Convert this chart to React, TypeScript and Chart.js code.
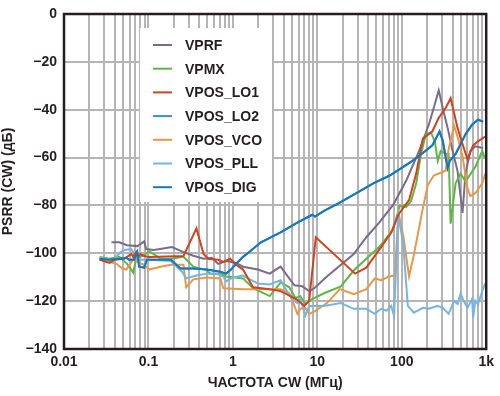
import React, { useEffect, useRef } from "react";
import { Chart, registerables } from "chart.js";

Chart.register(...registerables);

// ---- Data (frequency in MHz, PSRR in dB) ----
const seriesNames = ["VPRF", "VPMX", "VPOS_LO1", "VPOS_LO2", "VPOS_VCO", "VPOS_PLL", "VPOS_DIG"];
const seriesColors = ["#7b6b8b", "#5cb842", "#d2421c", "#3a8fd2", "#e89845", "#76b4e3", "#1777bd"];

const vprfFreq = [0.0365, 0.045, 0.056, 0.074, 0.089, 0.094, 0.116, 0.19, 0.26, 0.34, 0.45, 0.56, 0.67, 0.83, 1.09, 1.32, 1.97, 2.73, 3.67, 5.35, 6.64, 8.0, 9.2, 13, 27, 38, 54, 79, 113, 160, 209, 239, 274, 313, 349, 400, 457, 524, 568, 650, 743, 920];
const vprfDb = [-95.4, -95.4, -96.6, -97, -95, -98.2, -98.6, -97.4, -99.5, -101, -102.3, -101.9, -104.4, -103.2, -104, -105.6, -106.8, -108.5, -105.6, -113.4, -113.8, -115.8, -114.6, -109.7, -100.3, -93.3, -87.2, -79.8, -69.6, -57.3, -46.3, -39.3, -31.9, -40.9, -47.5, -57.3, -65.5, -83.1, -66.7, -57.3, -55.3, -56];

const vpmxFreq = [0.0264, 0.0346, 0.0453, 0.056, 0.066, 0.0716, 0.089, 0.102, 0.14, 0.184, 0.26, 0.34, 0.47, 0.54, 0.71, 0.83, 1.32, 1.73, 2.73, 3.67, 4.66, 5.5, 6.3, 7.2, 8.7, 12, 19, 27, 38, 54, 79, 91, 94, 113, 129, 148, 169, 193, 221, 246, 267, 289, 331, 359, 379, 434, 497, 568, 743, 898, 950];
const vpmxDb = [-101.5, -102.3, -101.5, -104.4, -108.1, -102.3, -100.7, -99.1, -102.3, -102.3, -101.5, -105.6, -106.8, -108.5, -108.5, -109.7, -110.5, -114.6, -117.9, -112.2, -114.2, -118.7, -117.9, -121.2, -119.1, -116.7, -113.8, -107.2, -102.3, -97.4, -90.1, -82.3, -80.2, -80.6, -78.2, -70.8, -58.5, -50.3, -49.5, -53.2, -61.4, -57.3, -58.5, -58.5, -87.6, -70.8, -66.7, -70, -63.9, -57.3, -59.8];

const lo1Freq = [0.0264, 0.0346, 0.0395, 0.0518, 0.0625, 0.066, 0.0716, 0.0755, 0.0798, 0.089, 0.102, 0.26, 0.37, 0.45, 0.51, 0.67, 0.77, 0.93, 1.09, 1.32, 1.73, 2.73, 3.67, 4.8, 5.8, 7.0, 8.0, 9.6, 28, 38, 57, 75, 91, 104, 122, 148, 178, 230, 274, 331, 379, 457, 524, 600, 700, 800, 973];
const lo1Db = [-102.7, -104, -102.7, -102.3, -100.3, -101.5, -99.5, -101.5, -100.3, -101.1, -101.5, -101.1, -89.6, -100.3, -102.3, -102.7, -103.6, -102.3, -104.8, -106.8, -114.2, -115, -115.8, -117.9, -119.5, -122, -119.9, -93.3, -108.5, -106, -97.4, -91.3, -83.9, -81, -77.8, -66.7, -52, -49.1, -43.4, -39.3, -35.2, -47.5, -54.4, -60.6, -54.9, -53.2, -51.2];

const digFreq = [0.0264, 0.0346, 0.0453, 0.0547, 0.0593, 0.0678, 0.0736, 0.0776, 0.089, 0.096, 0.184, 0.24, 0.34, 0.49, 0.71, 0.83, 0.95, 1.09, 1.32, 1.51, 2.15, 3.67, 5.8, 8.7, 9.4, 12, 18, 29, 46, 72, 104, 134, 178, 230, 280, 305, 349, 370, 434, 497, 568, 680, 800, 920];
const digDb = [-102.3, -102.7, -102.3, -101.9, -102.7, -102.7, -99.5, -105.6, -106, -102.7, -102.7, -106.4, -106.4, -106.8, -107.7, -108.5, -106.8, -104.4, -101.5, -99.9, -95.4, -91.3, -87.2, -83.9, -84.7, -82.3, -79, -74.9, -70.8, -67.5, -63.9, -61.4, -58.1, -54.9, -49.1, -52.8, -64.3, -61.4, -58.5, -54.4, -50.3, -46.3, -44.2, -45];

// VPOS_LO2 lies underneath VPOS_DIG in the picture
const lo2Freq = digFreq;
const lo2Db = digDb;

const vcoFreq = [0.0264, 0.0346, 0.0418, 0.049, 0.0547, 0.0643, 0.0697, 0.0736, 0.089, 0.102, 0.14, 0.184, 0.26, 0.28, 0.34, 0.49, 0.71, 0.77, 1.32, 2.73, 3.67, 4.66, 5.35, 5.8, 6.3, 7.2, 8.0, 9.2, 13, 18.5, 27, 38, 48, 57, 70, 83, 91, 104, 122, 139, 178, 203, 239, 331, 359, 416, 457, 524, 600, 650, 743, 898, 973];
const vcoDb = [-102.3, -103.6, -104.4, -106.4, -106.8, -103.2, -100.7, -103.6, -104.8, -106.8, -105.6, -104.8, -104.8, -114.2, -110.9, -110.1, -110.5, -114.6, -115, -115, -115, -116.7, -122, -125.3, -123.2, -122.8, -125.3, -124.4, -120.8, -115, -117.1, -115, -110.5, -111.3, -109.7, -109.3, -82.7, -92.5, -109.7, -100.7, -81, -71.6, -67.5, -65.5, -56.5, -46.7, -51.2, -59.4, -72.9, -76.1, -74.9, -70.8, -66.7];

const pllFreq = [0.0264, 0.0346, 0.0375, 0.0453, 0.0518, 0.0625, 0.066, 0.0716, 0.084, 0.102, 0.184, 0.25, 0.28, 0.37, 0.49, 0.64, 0.77, 0.83, 1.0, 1.32, 1.51, 1.97, 2.73, 3.67, 4.66, 5.35, 5.8, 6.3, 7.2, 8.0, 9.2, 12, 19, 27, 38, 48, 57, 66, 75, 81, 91, 104, 118, 139, 178, 209, 265, 305, 359, 416, 457, 497, 540, 600, 680, 700, 743, 800, 898, 973];
const pllDb = [-101.9, -102.7, -103.6, -99.9, -98.6, -98.2, -99.5, -102.3, -102.7, -102.7, -103.2, -107.7, -110.5, -109.3, -108.5, -108.5, -109.7, -111.7, -110.1, -109.3, -110.5, -112.6, -113, -111.3, -117.5, -119.9, -120.8, -119.1, -126.1, -122, -122, -122, -120.8, -123.2, -123.2, -125.3, -123.2, -124, -122, -126.1, -84, -96.2, -122, -124.8, -122.8, -123.2, -122, -122.8, -125.3, -119.9, -121.2, -116.7, -119.9, -122.8, -119.1, -126.9, -119.9, -121.2, -115.8, -112.6];

const seriesFreqs = [vprfFreq, vpmxFreq, lo1Freq, lo2Freq, vcoFreq, pllFreq, digFreq];
const seriesDbs = [vprfDb, vpmxDb, lo1Db, lo2Db, vcoDb, pllDb, digDb];
const drawOrder = [6, 5, 2, 7, 4, 3, 0]; // lower = drawn on top

const decadeTicks = [0.01, 0.1, 1, 10, 100, 1000];
const decadeLabels = ["0.01", "0.1", "1", "10", "100", "1k"];
const yMin = -140;
const yMax = 0;
const yStep = 20;

const xTitle = "ЧАСТОТА CW (МГц)";
const yTitle = "PSRR (CW) (дБ)";

const FONT = "'Liberation Sans', Arial, Helvetica, sans-serif";
const INK = "#231f20";

const insideLegend = {
  id: "insideLegend",
  beforeDatasetsDraw(chart: any) {
    const { ctx, chartArea } = chart;
    const left = chartArea.left + 76;
    const top = chartArea.top + 14;
    const w = 132;
    const h = 174;
    ctx.save();
    ctx.fillStyle = "#ffffff";
    ctx.fillRect(left, top, w, h);
    ctx.font = `bold 14px ${FONT}`;
    ctx.textBaseline = "middle";
    ctx.textAlign = "left";
    seriesNames.forEach((name, i) => {
      const cy = top + 17 + i * 23.7;
      ctx.strokeStyle = seriesColors[i];
      ctx.lineWidth = 2;
      ctx.beginPath();
      ctx.moveTo(left + 13, cy);
      ctx.lineTo(left + 32, cy);
      ctx.stroke();
      ctx.fillStyle = INK;
      ctx.fillText(name, left + 45, cy + 1);
    });
    ctx.restore();
  },
};

const frame = {
  id: "frame",
  afterDatasetsDraw(chart: any) {
    const { ctx, chartArea } = chart;
    ctx.save();
    ctx.strokeStyle = INK;
    ctx.lineWidth = 2.5;
    ctx.strokeRect(chartArea.left, chartArea.top, chartArea.right - chartArea.left, chartArea.bottom - chartArea.top);
    ctx.restore();
  },
};

export default function App() {
  const canvasRef = useRef<HTMLCanvasElement | null>(null);

  useEffect(() => {
    document.body.style.margin = "0";
    const canvas = canvasRef.current;
    if (!canvas) return;

    const datasets = seriesNames.map((name, i) => ({
      label: name,
      data: seriesFreqs[i].map((f, j) => ({ x: f, y: seriesDbs[i][j] })),
      borderColor: seriesColors[i],
      backgroundColor: seriesColors[i],
      borderWidth: 2,
      pointRadius: 0,
      tension: 0,
      fill: false,
      order: drawOrder[i],
    }));

    const chart = new Chart(canvas, {
      type: "line",
      data: { datasets },
      plugins: [insideLegend, frame],
      options: {
        animation: false,
        responsive: false,
        devicePixelRatio: 1,
        layout: { padding: { left: 0, right: 9, top: 7, bottom: 0 } },
        plugins: {
          legend: { display: false },
          tooltip: { enabled: false },
        },
        scales: {
          x: {
            type: "logarithmic",
            min: decadeTicks[0],
            max: decadeTicks[decadeTicks.length - 1],
            afterBuildTicks(scale: any) {
              const ticks: any[] = [];
              for (let d = 0; d < decadeTicks.length - 1; d++) {
                for (let m = 1; m <= 9; m++) ticks.push({ value: decadeTicks[d] * m });
              }
              ticks.push({ value: decadeTicks[decadeTicks.length - 1] });
              scale.ticks = ticks;
            },
            afterFit(scale: any) {
              scale.height = 47;
            },
            ticks: {
              autoSkip: false,
              maxRotation: 0,
              minRotation: 0,
              padding: 6,
              color: INK,
              font: { family: FONT, size: 14, weight: "bold", lineHeight: 1 },
              callback(value: any) {
                const v = Number(value);
                const i = decadeTicks.findIndex((d) => Math.abs(d - v) / d < 1e-6);
                return i >= 0 ? decadeLabels[i] : "";
              },
            },
            grid: { color: "#b5b5b5", lineWidth: 2, drawTicks: false },
            border: { display: false },
            title: {
              display: true,
              text: xTitle,
              color: INK,
              font: { family: FONT, size: 14, weight: "bold" },
              padding: { top: 0, bottom: 4 },
            },
          },
          y: {
            type: "linear",
            min: yMin,
            max: yMax,
            afterFit(scale: any) {
              scale.width = 64;
            },
            ticks: {
              stepSize: yStep,
              padding: 7,
              color: INK,
              font: { family: FONT, size: 14, weight: "bold", lineHeight: 1 },
              callback(value: any) {
                const v = Number(value);
                return v < 0 ? "\u2212" + Math.abs(v) : String(v);
              },
            },
            grid: { color: "#b5b5b5", lineWidth: 2, drawTicks: false },
            border: { display: false },
            title: {
              display: true,
              text: yTitle,
              color: INK,
              font: { family: FONT, size: 14, weight: "bold" },
              padding: { top: 0, bottom: 0 },
            },
          },
        },
      },
    } as any);

    return () => chart.destroy();
  }, []);

  return (
    <div style={{ position: "absolute", left: 0, top: 0, width: 500, height: 396, background: "#fff" }}>
      <canvas ref={canvasRef} width={500} height={396} style={{ display: "block", width: 500, height: 396 }} />
    </div>
  );
}
